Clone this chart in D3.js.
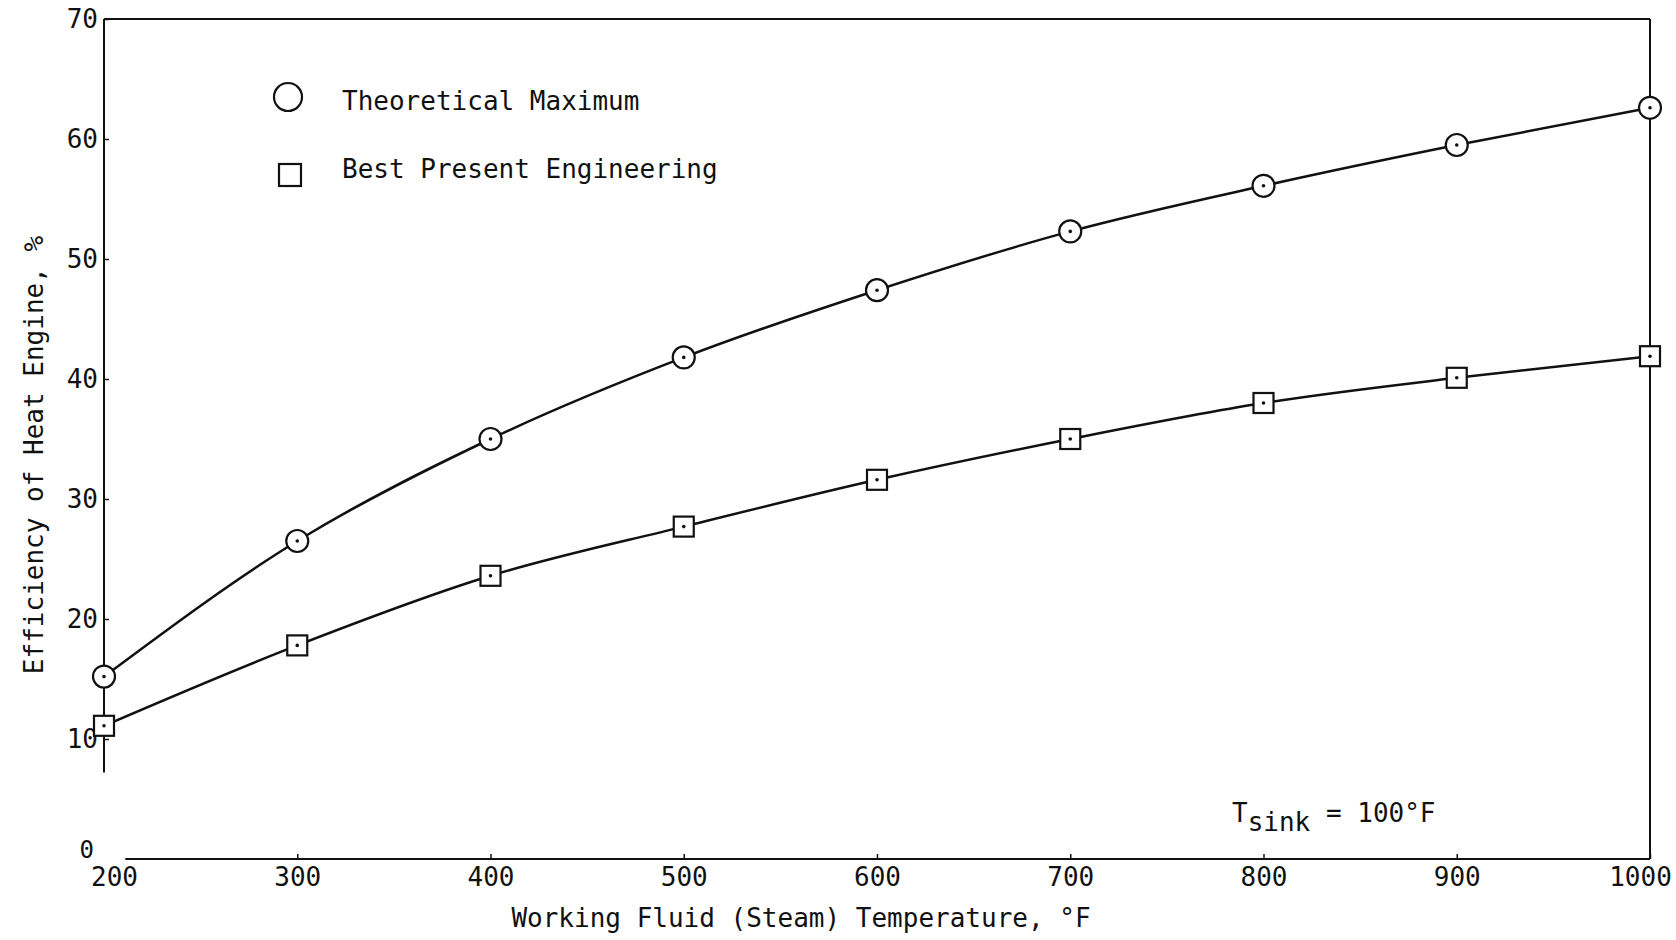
<!DOCTYPE html>
<html>
<head>
<meta charset="utf-8">
<script src="https://cdn.jsdelivr.net/npm/d3@7"></script>
<style>
  body { margin: 0; background: #fff; }
  svg { display: block; }
  text { font-family: "DejaVu Sans Mono", monospace; fill: #111; }
</style>
</head>
<body>
<svg id="chart" width="1676" height="940"></svg>
<script>
// Values
const temps = [200, 300, 400, 500, 600, 700, 800, 900, 1000];
const theoreticalMax = [15.2, 26.5, 35.0, 41.8, 47.4, 52.3, 56.1, 59.5, 62.6];
const bestPresent = [11.1, 17.8, 23.6, 27.7, 31.6, 35.0, 38.0, 40.1, 41.9];
const xTicks = [200, 300, 400, 500, 600, 700, 800, 900, 1000];
const yTicks = [0, 10, 20, 30, 40, 50, 60, 70];

const svg = d3.select("#chart");
const ink = "#111";

const x = d3.scaleLinear().domain([200, 1000]).range([104, 1650]);
const y = d3.scaleLinear().domain([0, 70]).range([859, 19]);

// Frame: top, right, left (broken near bottom), bottom
const frame = svg.append("g")
  .attr("stroke", ink)
  .attr("stroke-width", 2)
  .attr("fill", "none");
frame.append("line").attr("x1", x(200)).attr("x2", x(1000)).attr("y1", y(70)).attr("y2", y(70));
frame.append("line").attr("x1", x(1000)).attr("x2", x(1000)).attr("y1", y(70)).attr("y2", y(0));
frame.append("line").attr("x1", x(200)).attr("x2", x(200)).attr("y1", y(70)).attr("y2", y(7.2));
frame.append("line").attr("x1", x(211)).attr("x2", x(1000)).attr("y1", y(0)).attr("y2", y(0));

// Axes
const xAxis = svg.append("g")
  .attr("transform", `translate(0,${y(0)})`)
  .call(d3.axisBottom(x).tickValues(xTicks).tickSize(-5).tickPadding(9).tickFormat(d3.format("d")));
xAxis.select(".domain").remove();
xAxis.selectAll("line").attr("stroke", ink).attr("stroke-width", 1.5);
xAxis.selectAll(".tick").filter(d => d === 200).select("line").remove();
xAxis.selectAll("text").attr("font-size", "26px").attr("font-family", "DejaVu Sans Mono").attr("fill", ink)
  .attr("dx", d => d === 200 ? 10 : d === 1000 ? -10 : 0);

const yAxis = svg.append("g")
  .attr("transform", `translate(${x(200)},0)`)
  .call(d3.axisLeft(y).tickValues(yTicks).tickSize(-5).tickPadding(6));
yAxis.select(".domain").remove();
yAxis.selectAll("line").attr("stroke", ink).attr("stroke-width", 1.5);
yAxis.selectAll(".tick").filter(d => d === 0).select("line").remove();
yAxis.selectAll("text").attr("font-size", "26px").attr("font-family", "DejaVu Sans Mono").attr("fill", ink);
// the zero label sits just above the temperature labels
yAxis.selectAll(".tick").filter(d => d === 0).select("text")
  .attr("dy", "-0.05em").attr("dx", -4).attr("font-size", "24px");

// Axis titles
svg.append("text")
  .attr("x", 801)
  .attr("y", 927)
  .attr("text-anchor", "middle")
  .attr("font-size", "26px")
  .text("Working Fluid (Steam) Temperature, °F");

svg.append("text")
  .attr("transform", "translate(34,455) rotate(-90)")
  .attr("text-anchor", "middle")
  .attr("dominant-baseline", "central")
  .attr("font-size", "26px")
  .text("Efficiency of Heat Engine, %");

// Curves
const line = d3.line()
  .x((d, i) => x(temps[i]))
  .y(d => y(d))
  .curve(d3.curveMonotoneX);

[theoreticalMax, bestPresent].forEach(series => {
  svg.append("path")
    .datum(series)
    .attr("d", line)
    .attr("fill", "none")
    .attr("stroke", ink)
    .attr("stroke-width", 2.5);
});

// Markers
const circles = svg.append("g");
theoreticalMax.forEach((v, i) => {
  circles.append("circle")
    .attr("cx", x(temps[i])).attr("cy", y(v)).attr("r", 11)
    .attr("fill", "#fff").attr("stroke", ink).attr("stroke-width", 2.2);
  circles.append("circle")
    .attr("cx", x(temps[i])).attr("cy", y(v)).attr("r", 1.8)
    .attr("fill", ink);
});

const squares = svg.append("g");
const sq = 20;
bestPresent.forEach((v, i) => {
  squares.append("rect")
    .attr("x", x(temps[i]) - sq / 2).attr("y", y(v) - sq / 2)
    .attr("width", sq).attr("height", sq)
    .attr("fill", "#fff").attr("stroke", ink).attr("stroke-width", 2.2);
  squares.append("circle")
    .attr("cx", x(temps[i])).attr("cy", y(v)).attr("r", 1.8)
    .attr("fill", ink);
});

// Legend
const legend = svg.append("g");
legend.append("circle")
  .attr("cx", 288).attr("cy", 97).attr("r", 14)
  .attr("fill", "none").attr("stroke", ink).attr("stroke-width", 2.2);
legend.append("text").attr("x", 342).attr("y", 110).attr("font-size", "26px").text("Theoretical Maximum");
legend.append("rect")
  .attr("x", 279).attr("y", 164).attr("width", 22).attr("height", 22)
  .attr("fill", "none").attr("stroke", ink).attr("stroke-width", 2.2);
legend.append("text").attr("x", 342).attr("y", 178).attr("font-size", "26px").text("Best Present Engineering");

// Sink temperature note
const note = svg.append("text")
  .attr("x", 1232)
  .attr("y", 822)
  .attr("font-size", "26px");
note.append("tspan").text("T");
note.append("tspan").attr("dy", 9).text("sink");
note.append("tspan").attr("dy", -9).text(" = 100°F");
</script>
</body>
</html>
